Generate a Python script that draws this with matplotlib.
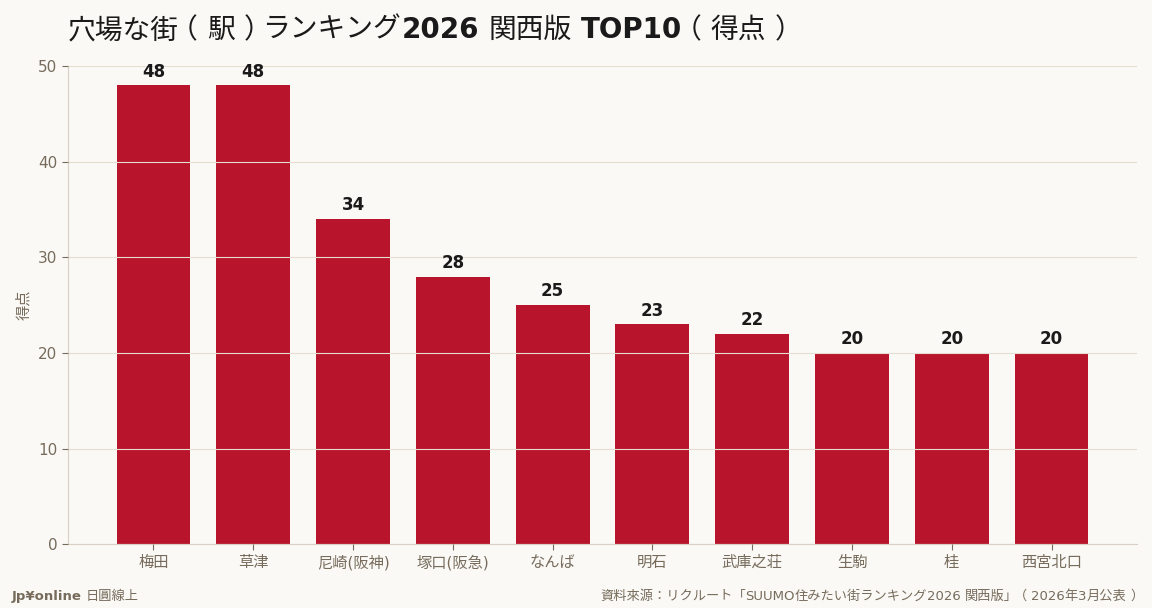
import matplotlib
matplotlib.use("Agg")
import matplotlib.pyplot as plt
from matplotlib.font_manager import FontProperties, findfont, get_font
from matplotlib.textpath import TextPath

plt.rcParams['font.family'] = ['DejaVu Sans', 'Noto Sans CJK JP']
CJK = ['Noto Sans CJK JP', 'DejaVu Sans']

stations = ["梅田", "草津", "尼崎(阪神)", "塚口(阪急)", "なんば",
            "明石", "武庫之荘", "生駒", "桂", "西宮北口"]
scores = [48, 48, 34, 28, 25, 23, 22, 20, 20, 20]
yticks = [0, 10, 20, 30, 40, 50]

footer_left = ["Jp¥online", " 日圓線上"]
footer_right = "資料來源：リクルート「SUUMO住みたい街ランキング2026 関西版」（2026年3月公表）"

bg = '#faf9f6'
bar_color = '#b8152c'
text_color = '#776c5c'
grid_color = '#e4ddd0'
W, H = 1152, 608

fig = plt.figure(figsize=(W / 100, H / 100), dpi=100, facecolor=bg)
ax = fig.add_axes([0.059, 0.105, 0.928, 0.786])
ax.set_facecolor(bg)

x = range(len(stations))
ax.bar(x, scores, width=0.74, color=bar_color, zorder=2)
for xi, v in zip(x, scores):
    ax.text(xi, v + 0.5, str(v), ha='center', va='bottom', fontsize=12,
            fontweight='bold', color='#1a1a1a')

ax.set_xticks(list(x))
ax.set_xticklabels(stations, fontsize=11, color=text_color)
ax.set_ylim(0, 50)
ax.set_yticks(yticks)
ax.tick_params(axis='y', labelsize=11, labelcolor=text_color, color=text_color, length=4)
ax.tick_params(axis='x', color=text_color, length=4)
ax.set_ylabel('得点', fontsize=11, color=text_color, labelpad=4, family=CJK)

ax.grid(axis='y', color=grid_color, linewidth=0.8, zorder=3)
ax.set_axisbelow(False)
for s in ['top', 'right']:
    ax.spines[s].set_visible(False)
for s in ['left', 'bottom']:
    ax.spines[s].set_color('#d8d0c2')

# fonts for the hand laid-out lines: latin in DejaVu (bold where asked),
# everything else in regular CJK with full-width brackets centred in their box
lat_fonts = {False: findfont(FontProperties(family='DejaVu Sans')),
             True: findfont(FontProperties(family='DejaVu Sans', weight='bold'))}
cjk_prop = FontProperties(family='Noto Sans CJK JP')
cjk_file = findfont(cjk_prop)


def rich_line(x_px, y_px, parts, size, color, align='left'):
    tokens = []  # [text, file, bold, advance, centred]
    for text, bold in parts:
        for c in text:
            lat = get_font(lat_fonts[bold])
            if lat.get_char_index(ord(c)):
                f, fb = lat_fonts[bold], bold
            else:
                f, fb = cjk_file, False
            font = get_font(f)
            font.set_size(size, 100)
            adv = font.load_char(ord(c)).linearHoriAdvance / 65536
            centred = c in '（）'
            if (tokens and not centred and not tokens[-1][4] and c != ' '
                    and tokens[-1][0][-1] != ' ' and tokens[-1][1] == f):
                tokens[-1][0] += c
                tokens[-1][3] += adv
            else:
                tokens.append([c, f, fb, adv, centred])
    total = sum(t[3] for t in tokens)
    pen = x_px if align == 'left' else x_px - total
    for text, f, fb, adv, centred in tokens:
        if text != ' ':
            fam = 'DejaVu Sans' if f in lat_fonts.values() else 'Noto Sans CJK JP'
            tx = pen
            if centred:
                ext = TextPath((0, 0), text, size=size, prop=cjk_prop).get_extents()
                tx = pen + adv / 2 - (ext.x0 + ext.x1) / 2 * 100 / 72
            fig.text(tx / W, 1 - y_px / H, text,
                     family=fam, fontweight='bold' if fb else 'normal',
                     fontsize=size, color=color, va='baseline', ha='left')
        pen += adv


rich_line(68, 38, [("穴場な街（駅）ランキング", False), ("2026 ", True), ("関西版", False),
                   (" TOP10", True), ("（得点）", False)], 20, '#1a1a1a')
rich_line(12, 600, [(footer_left[0], True), (footer_left[1], False)], 9.5, text_color)
rich_line(1139, 600, [(footer_right, False)], 9.5, text_color, align='right')

fig.savefig('out.png', dpi=100, facecolor=bg)
